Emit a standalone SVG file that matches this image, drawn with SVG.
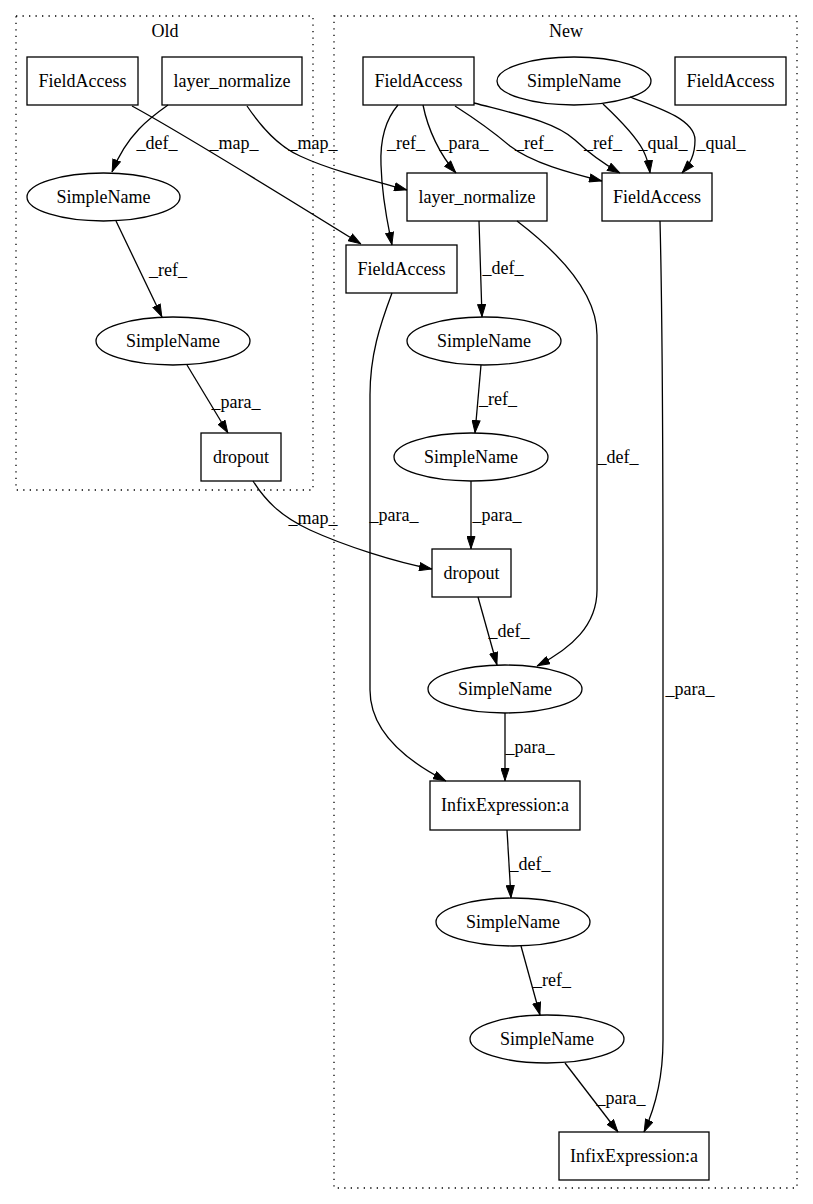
<svg xmlns="http://www.w3.org/2000/svg" width="813" height="1204" viewBox="0 0 813 1204">
<style>
text{font-family:"Liberation Serif","Times New Roman",serif;font-size:18px;fill:#000;text-anchor:middle}
.n{fill:none;stroke:#000;stroke-width:1.3}
.c{fill:none;stroke:#000;stroke-width:1.3;stroke-dasharray:1.3,5.2}
.e{fill:none;stroke:#000;stroke-width:1.3;marker-end:url(#ah)}
</style>
<defs>
<marker id="ah" viewBox="0 0 13 9" refX="13" refY="4.5" markerWidth="13" markerHeight="9" markerUnits="userSpaceOnUse" orient="auto">
<path d="M0.5,0.5 L12.5,4.5 L0.5,8.5 z" fill="#000" stroke="#000" stroke-width="1"/>
</marker>
</defs>
<rect width="813" height="1204" fill="#fff"/>
<g id="cluster_old">
<rect class="c" x="16" y="16" width="297" height="474"/>
<text x="165" y="37">Old</text>
</g>
<g id="cluster_new">
<rect class="c" x="334" y="16" width="463" height="1172"/>
<text x="566" y="37">New</text>
</g>
<g id="connectors">
<path class="e" d="M168,105 C151,117 127,134 112,172"/>
<text x="157" y="149">_def_</text>
<path class="e" d="M132,106 C180,132 290,200 361,244"/>
<text x="234" y="149">_map_</text>
<path class="e" d="M247,106 C262,128 278,146 300,156 C330,170 370,180 407,190"/>
<text x="313" y="149">_map_</text>
<path class="e" d="M116,221 L162,317"/>
<text x="168" y="276">_ref_</text>
<path class="e" d="M187,365 L228,433"/>
<text x="236" y="408">_para_</text>
<path class="e" d="M253,481 C265,500 280,516 310,530 C345,546 395,562 432,569"/>
<text x="313" y="524">_map_</text>
<path class="e" d="M398,105 C385,120 380,140 381,165 C382,200 388,225 392,245"/>
<text x="406" y="149">_ref_</text>
<path class="e" d="M423,105 C428,130 440,155 456,173"/>
<text x="464" y="149">_para_</text>
<path class="e" d="M455,106 C480,122 497,135 510,146 C532,163 570,173 602,181"/>
<text x="534" y="149">_ref_</text>
<path class="e" d="M474,103 C520,115 555,122 575,140 C592,156 604,164 620,173"/>
<text x="603" y="149">_ref_</text>
<path class="e" d="M603,104 C620,120 635,135 643,150 C647,158 649,165 650,173"/>
<text x="663" y="149">_qual_</text>
<path class="e" d="M630,97 C660,108 695,120 695,140 C695,155 690,164 682,173"/>
<text x="721" y="149">_qual_</text>
<path class="e" d="M479,221 L482,317"/>
<text x="503" y="274">_def_</text>
<path class="e" d="M517,221 C555,250 597,290 597,335 L597,590 C597,625 572,648 537,666"/>
<text x="618" y="463">_def_</text>
<path class="e" d="M660,221 C662,300 663,400 663,600 L663,1040 C663,1080 655,1108 644,1132"/>
<text x="690" y="695">_para_</text>
<path class="e" d="M392,293 C380,325 370,355 370,395 L370,690 C370,730 405,760 446,781"/>
<text x="394" y="521">_para_</text>
<path class="e" d="M481,365 L475,433"/>
<text x="498" y="405">_ref_</text>
<path class="e" d="M471,481 L471,549"/>
<text x="497" y="521">_para_</text>
<path class="e" d="M478,597 L497,665"/>
<text x="509" y="637">_def_</text>
<path class="e" d="M505,713 L505,781"/>
<text x="530" y="753">_para_</text>
<path class="e" d="M507,830 L511,898"/>
<text x="530" y="870">_def_</text>
<path class="e" d="M521,946 L540,1015"/>
<text x="552" y="986">_ref_</text>
<path class="e" d="M565,1063 L618,1132"/>
<text x="621" y="1104">_para_</text>
</g>
<g id="old_fieldaccess"><rect class="n" x="27" y="57" width="111" height="48"/><text x="82.5" y="87">FieldAccess</text></g>
<g id="old_layer_normalize"><rect class="n" x="162" y="57" width="140" height="48"/><text x="232" y="87">layer_normalize</text></g>
<g id="old_simplename1"><ellipse class="n" cx="103.5" cy="197" rx="76.5" ry="24"/><text x="103.5" y="203">SimpleName</text></g>
<g id="old_simplename2"><ellipse class="n" cx="173" cy="341" rx="77" ry="24"/><text x="173" y="347">SimpleName</text></g>
<g id="old_dropout"><rect class="n" x="201" y="433" width="80" height="48"/><text x="241" y="463">dropout</text></g>
<g id="new_fieldaccess_top"><rect class="n" x="363" y="57" width="111" height="48"/><text x="418.5" y="87">FieldAccess</text></g>
<g id="new_simplename_top"><ellipse class="n" cx="574" cy="81" rx="77" ry="24"/><text x="574" y="87">SimpleName</text></g>
<g id="new_fieldaccess_right"><rect class="n" x="675" y="57" width="111" height="48"/><text x="730.5" y="87">FieldAccess</text></g>
<g id="new_layer_normalize"><rect class="n" x="407" y="173" width="140" height="48"/><text x="477" y="203">layer_normalize</text></g>
<g id="new_fieldaccess_mid"><rect class="n" x="602" y="173" width="110" height="48"/><text x="657" y="203">FieldAccess</text></g>
<g id="new_fieldaccess_low"><rect class="n" x="346" y="245" width="111" height="48"/><text x="401.5" y="275">FieldAccess</text></g>
<g id="new_simplename_a"><ellipse class="n" cx="484" cy="341" rx="77" ry="24"/><text x="484" y="347">SimpleName</text></g>
<g id="new_simplename_b"><ellipse class="n" cx="471" cy="457" rx="77" ry="24"/><text x="471" y="463">SimpleName</text></g>
<g id="new_dropout"><rect class="n" x="432" y="549" width="79" height="48"/><text x="471.5" y="579">dropout</text></g>
<g id="new_simplename_c"><ellipse class="n" cx="505" cy="689" rx="77" ry="24"/><text x="505" y="695">SimpleName</text></g>
<g id="new_infix_1"><rect class="n" x="430" y="781" width="150" height="49"/><text x="505" y="811">InfixExpression:a</text></g>
<g id="new_simplename_d"><ellipse class="n" cx="513" cy="922" rx="77" ry="24"/><text x="513" y="928">SimpleName</text></g>
<g id="new_simplename_e"><ellipse class="n" cx="547" cy="1039" rx="77" ry="24"/><text x="547" y="1045">SimpleName</text></g>
<g id="new_infix_2"><rect class="n" x="559" y="1132" width="150" height="48"/><text x="634" y="1162">InfixExpression:a</text></g>
</svg>
